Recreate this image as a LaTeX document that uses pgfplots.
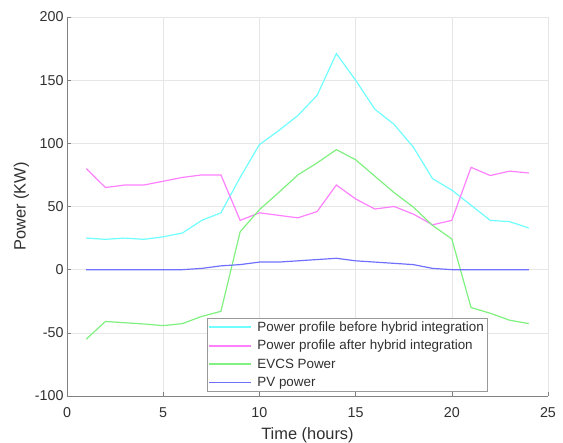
\documentclass[border=0pt]{standalone}
\usepackage{pgfplots}
\pgfplotsset{compat=1.18}
\usepackage{fontspec}
\setmainfont{Liberation Sans}
\definecolor{cbefore}{HTML}{70FFFF}
\definecolor{cafter}{HTML}{FF80FF}
\definecolor{cevcs}{HTML}{80F080}
\definecolor{cpv}{HTML}{7070FF}
\definecolor{txt}{HTML}{303030}
\definecolor{gridc}{HTML}{E6E6E6}
\definecolor{axc}{HTML}{808080}
\begin{document}
\begin{tikzpicture}
\begin{axis}[
  name=ax,
  scale only axis,
  width=481pt, height=379pt,
  xmin=0, xmax=25, ymin=-100, ymax=200,
  xtick={0,5,...,25}, ytick={-100,-50,...,200},
  grid=major,
  major grid style={gridc, line width=0.6pt},
  axis x line*=bottom, axis y line*=left,
  axis line style={axc, line width=0.6pt},
  tick style={axc, line width=0.6pt},
  major tick length=4pt,
  tick align=inside,
  /pgf/number format/assume math mode=true,
  ticklabel style={font=\fontsize{14.3}{16}\selectfont, text=txt},
  xticklabel style={yshift=-8pt},
  xlabel={Time (hours)}, ylabel={Power (KW)},
  label style={font=\fontsize{16.4}{18}\selectfont, text=txt},
  xlabel style={yshift=-3pt},
  ylabel style={yshift=-1pt},
  legend cell align=left,
  legend style={at={(axis cs:7.26,-38)}, anchor=north west, draw=gray!80, line width=0.6pt,
    font=\fontsize{13.4}{15}\selectfont, text=txt, inner sep=1.5pt, row sep=3.45pt},
  legend image code/.code={\draw[#1, line width=1.7pt] (0.05cm,0cm) -- (1.5cm,0cm); \path (1.65cm,0cm);},
  every axis plot/.append style={line width=1.2pt},
]
\addplot[cbefore] coordinates {(1,25)(2,24)(3,25)(4,24)(5,26)(6,29)(7,39)(8,45)(9,73)(10,99)(11,110)(12,122)(13,138)(14,171)(15,150)(16,127)(17,115)(18,97)(19,72)(20,63)(21,51)(22,39)(23,38)(24,33)};
\addlegendentry{Power profile before hybrid integration}
\addplot[cafter] coordinates {(1,80)(2,65)(3,67)(4,67)(5,70)(6,73)(7,75)(8,75)(9,39)(10,45)(11,43)(12,41)(13,46)(14,67)(15,56)(16,48)(17,50)(18,44)(19,35.5)(20,39)(21,81)(22,74.5)(23,78)(24,76.5)};
\addlegendentry{Power profile after hybrid integration}
\addplot[cevcs] coordinates {(1,-55)(2,-41)(3,-42)(4,-43)(5,-44.3)(6,-42.7)(7,-37)(8,-33)(9,30)(10,47.5)(11,61)(12,75)(13,84.5)(14,95)(15,87)(16,74)(17,61)(18,49.5)(19,35)(20,24.3)(21,-30)(22,-34.5)(23,-40)(24,-42.7)};
\addlegendentry{EVCS Power}
\addplot[cpv] coordinates {(1,0)(2,0)(3,0)(4,0)(5,0)(6,0)(7,1)(8,3)(9,4)(10,6)(11,6)(12,7)(13,8)(14,9)(15,7)(16,6)(17,5)(18,4)(19,1)(20,0)(21,0)(22,0)(23,0)(24,0)};
\addlegendentry{PV power}
\end{axis}
\pgfresetboundingbox
\path[use as bounding box] ([shift={(-67pt,-47pt)}]ax.south west) rectangle ([shift={(15pt,17pt)}]ax.north east);
\end{tikzpicture}
\end{document}
